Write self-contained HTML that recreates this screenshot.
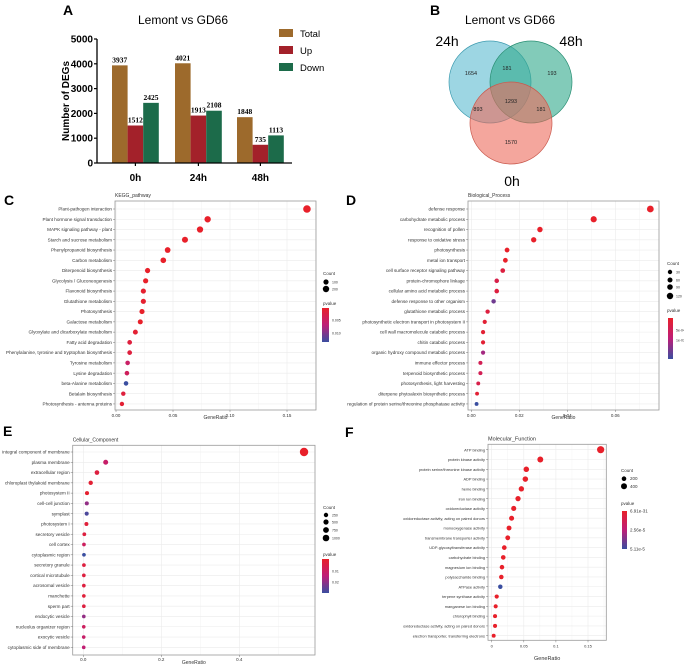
<!DOCTYPE html>
<html><head><meta charset="utf-8">
<style>
html,body{margin:0;padding:0;background:#fff;}
svg{display:block;font-family:"Liberation Sans",sans-serif;}
</style></head>
<body>
<svg id="fig" width="684" height="665" viewBox="0 0 684 665" xmlns="http://www.w3.org/2000/svg">
<g id="gA"></g>
<g id="gB"></g>
<g id="gC"></g>
<g id="gD"></g>
<g id="gE"></g>
<g id="gF"></g>
</svg>
<script>
// ---------- Panel A data ----------
const barGroups = ["0h","24h","48h"];
const seriesNames = ["Total","Up","Down"];
const totalVals = [3937,4021,1848];
const upVals = [1512,1913,735];
const downVals = [2425,2108,1113];
const barYTicks = [0,1000,2000,3000,4000,5000];

// ---------- Panel B data ----------
const vennSets = ["24h","48h","0h"];
const vennCounts = [1654,181,193,1293,893,181,1570];

// ---------- Panel C data ----------
const keggTerms = ["Plant-pathogen interaction","Plant hormone signal transduction","MAPK signaling pathway - plant","Starch and sucrose metabolism","Phenylpropanoid biosynthesis","Carbon metabolism","Diterpenoid biosynthesis","Glycolysis / Gluconeogenesis","Flavonoid biosynthesis","Glutathione metabolism","Photosynthesis","Galactose metabolism","Glyoxylate and dicarboxylate metabolism","Fatty acid degradation","Phenylalanine, tyrosine and tryptophan biosynthesis","Tyrosine metabolism","Lysine degradation","beta-Alanine metabolism","Betalain biosynthesis","Photosynthesis - antenna proteins"];
const keggRatio = [0.1675,0.0804,0.0737,0.0605,0.0453,0.0415,0.0277,0.026,0.024,0.024,0.0228,0.0213,0.017,0.012,0.012,0.0102,0.0096,0.0088,0.0064,0.0052];
const keggCount = [280,135,125,105,80,72,48,45,42,42,40,37,30,22,22,18,17,16,12,10];
const keggP = [0.0,0.0,0.0,0.0,0.0,0.0,0.0,0.0,0.0005,0.0005,0.0,0.0,0.001,0.002,0.002,0.006,0.005,0.016,0.002,0.001];
const keggTicks = [0,0.05,0.10,0.15];
const keggTickLabels = ["0.00","0.05","0.10","0.15"];

// ---------- Panel D data ----------
const bpTerms = ["defense response","carbohydrate metabolic process","recognition of pollen","response to oxidative stress","photosynthesis","metal ion transport","cell surface receptor signaling pathway","protein-chromophore linkage","cellular amino acid metabolic process","defense response to other organism","glutathione metabolic process","photosynthetic electron transport in photosystem II","cell wall macromolecule catabolic process","chitin catabolic process","organic hydroxy compound metabolic process","immune effector process","terpenoid biosynthetic process","photosynthesis, light harvesting","diterpene phytoalexin biosynthetic process","regulation of protein serine/threonine phosphatase activity"];
const bpRatio = [0.0746,0.051,0.0286,0.026,0.0149,0.0142,0.0131,0.0106,0.0106,0.0093,0.0068,0.0056,0.0049,0.0049,0.0049,0.0038,0.0038,0.0029,0.0024,0.0022];
const bpCount = [125,86,48,44,25,24,22,18,18,16,12,10,9,9,9,7,7,5,4,4];
const bpP = [0,0,0,0,0,0,0.00002,0.00003,0.00002,0.00012,0.00002,0.00001,0.00001,0.00001,0.00009,0.00004,0.00004,0.00003,0.00001,0.00015];
const bpTicks = [0,0.02,0.04,0.06];
const bpTickLabels = ["0.00","0.02","0.04","0.06"];

// ---------- Panel E data ----------
const ccTerms = ["integral component of membrane","plasma membrane","extracellular region","chloroplast thylakoid membrane","photosystem II","cell-cell junction","symplast","photosystem I","secretory vesicle","cell cortex","cytoplasmic region","secretory granule","cortical microtubule","acrosomal vesicle","manchette","sperm part","endocytic vesicle","nucleolus organizer region","exocytic vesicle","cytoplasmic side of membrane"];
const ccRatio = [0.566,0.0574,0.035,0.019,0.0095,0.009,0.0087,0.008,0.0026,0.0017,0.0017,0.0016,0.0014,0.0014,0.0014,0.0014,0.0013,0.0012,0.0011,0.0011];
const ccCount = [1100,110,70,40,20,18,17,16,6,4,4,4,3,3,3,3,3,2,2,2];
const ccP = [0,0.012,0.004,0.002,0.001,0.02,0.028,0.003,0.004,0.01,0.03,0.004,0.004,0.004,0.003,0.004,0.02,0.01,0.012,0.014];
const ccTicks = [0,0.2,0.4];
const ccTickLabels = ["0.0","0.2","0.4"];

// ---------- Panel F data ----------
const mfTerms = ["ATP binding","protein kinase activity","protein serine/threonine kinase activity","ADP binding","heme binding","iron ion binding","oxidoreductase activity","oxidoreductase activity, acting on paired donors","monooxygenase activity","transmembrane transporter activity","UDP-glycosyltransferase activity","carbohydrate binding","magnesium ion binding","polysaccharide binding","ATPase activity","terpene synthase activity","manganese ion binding","chlorophyll binding","oxidoreductase activity, acting on paired donors","electron transporter, transferring electrons"];
const mfRatio = [0.1697,0.0757,0.0539,0.0524,0.0462,0.041,0.0343,0.031,0.027,0.025,0.0196,0.018,0.016,0.015,0.0134,0.0078,0.0062,0.0052,0.0052,0.0031];
const mfCount = [540,240,170,165,145,130,108,98,85,80,62,57,50,47,42,25,20,16,16,10];
const mfP = [0,0,0,0,0,0,0,0,0,0,0,0,0,0,0.00005,0,0,0,0,0];
const mfTicks = [0,0.05,0.1,0.15];
const mfTickLabels = ["0","0.05","0.1","0.15"];

const NS="http://www.w3.org/2000/svg";
function mk(parent,tag,attrs,text){
  const e=document.createElementNS(NS,tag);
  for(const k in attrs) e.setAttribute(k,attrs[k]);
  if(text!==undefined) e.textContent=text;
  parent.appendChild(e); return e;
}
function lerp(a,b,t){return Math.round(a+(b-a)*t);}
function pColor(p,pmax){
  const t=Math.max(0,Math.min(1,p/pmax));
  const r=[232,32,42], b=[58,78,160], m=[190,30,120];
  let c;
  if(t<0.5){const u=t/0.5;c=[lerp(r[0],m[0],u),lerp(r[1],m[1],u),lerp(r[2],m[2],u)];}
  else{const u=(t-0.5)/0.5;c=[lerp(m[0],b[0],u),lerp(m[1],b[1],u),lerp(m[2],b[2],u)];}
  return "rgb("+c.join(",")+")";
}

// ================= Panel A =================
(function(){
  const g=document.getElementById('gA');
  const y0=163, yTop=39, xAxis=97, xEnd=292;
  const yS=v=>y0-(v-0)*(y0-yTop)/5000;
  const groupStart=[112,175,237], bw=15.6;
  const colors=["#9d6a2c","#a3212a","#1c6b4a"];
  const series=[totalVals,upVals,downVals];
  let t=mk(g,'text',{x:63,y:15,'font-size':14,'font-weight':'bold'},'A');
   
  t=mk(g,'text',{x:183,y:24,'font-size':12,'text-anchor':'middle'},'Lemont vs GD66');
   
  for(let gi=0;gi<barGroups.length;gi++){
    for(let s=0;s<3;s++){
      const v=series[s][gi];
      const x=groupStart[gi]+s*bw;
      const r=mk(g,'rect',{x:x,y:yS(v),width:bw,height:y0-yS(v),fill:colors[s]});
      
      
      const l=mk(g,'text',{x:x+bw/2,y:yS(v)-3,'font-size':7.5,'font-weight':'bold','text-anchor':'middle','font-family':'Liberation Serif'},String(v));
      
      
    }
    const gl=mk(g,'text',{x:groupStart[gi]+bw*1.5,y:181,'font-size':10,'font-weight':'bold','text-anchor':'middle'},barGroups[gi]);
    
    
    mk(g,'line',{x1:groupStart[gi]+bw*1.5,x2:groupStart[gi]+bw*1.5,y1:y0,y2:y0+3,stroke:'#000','stroke-width':1.2});
  }
  mk(g,'line',{x1:xAxis,x2:xEnd,y1:y0,y2:y0,stroke:'#000','stroke-width':1.3});
  mk(g,'line',{x1:xAxis,x2:xAxis,y1:yTop,y2:y0,stroke:'#000','stroke-width':1.3});
  barYTicks.forEach(v=>{
    mk(g,'line',{x1:xAxis-3,x2:xAxis,y1:yS(v),y2:yS(v),stroke:'#000','stroke-width':1.2});
    const tl=mk(g,'text',{x:xAxis-4,y:yS(v)+3.5,'font-size':10,'font-weight':'bold','text-anchor':'end'},String(v));
    
    
  });
  const yt=mk(g,'text',{x:0,y:0,'font-size':10,'font-weight':'bold','text-anchor':'middle',transform:'translate(69,101) rotate(-90)'},'Number of DEGs');
   
  const ly=[33,50,67];
  for(let s=0;s<3;s++){
    const le=mk(g,'g',{});
    
    
    mk(le,'rect',{x:279,y:ly[s]-4,width:14,height:8,fill:colors[s]});
    mk(le,'text',{x:300,y:ly[s]+4,'font-size':9.5},seriesNames[s]);
  }
})();

// ================= Panel B =================
(function(){
  const g=document.getElementById('gB');
  let t=mk(g,'text',{x:430,y:15,'font-size':14,'font-weight':'bold'},'B');
   
  t=mk(g,'text',{x:510,y:24,'font-size':12,'text-anchor':'middle'},'Lemont vs GD66');
   
  const circles=[{cx:490,cy:82,fill:'#5bbad0',stroke:'#3f9cb0'},{cx:531,cy:82,fill:'#2fa98a',stroke:'#2a8f74'},{cx:511,cy:123,fill:'#ec6a5c',stroke:'#c95a4e'}];
  circles.forEach((c,i)=>{
    const e=mk(g,'circle',{cx:c.cx,cy:c.cy,r:41,fill:c.fill,'fill-opacity':0.6,stroke:c.stroke,'stroke-width':0.7});
    
    
  });
  const setLab=[[447,46],[571,46],[512,186]];
  vennSets.forEach((s,i)=>{
    const e=mk(g,'text',{x:setLab[i][0],y:setLab[i][1],'font-size':14,'text-anchor':'middle'},s);
    
    
  });
  const pos=[[471,75],[507,70],[552,75],[511,103],[478,111],[541,111],[511,144]];
  vennCounts.forEach((v,i)=>{
    const e=mk(g,'text',{x:pos[i][0],y:pos[i][1],'font-size':5.5,'text-anchor':'middle',fill:'#222'},String(v));
    
    
  });
})();

// ================= Dot plots =================
function dotPlot(cfg){
  const g=document.getElementById(cfg.id);
  const xS=v=>cfg.x0+v*cfg.pxPer;
  const yS=i=>cfg.row0+i*cfg.rowStep;
  let t=mk(g,'text',{x:cfg.letterX,y:cfg.letterY,'font-size':14,'font-weight':'bold'},cfg.letter);
   
  t=mk(g,'text',{x:cfg.left,y:cfg.top-4,'font-size':cfg.titleSize,fill:'#333'},cfg.title);
   
  mk(g,'rect',{x:cfg.left,y:cfg.top,width:cfg.right-cfg.left,height:cfg.bottom-cfg.top,fill:'#fff'});
  // grid
  const step=cfg.ticks[1]-cfg.ticks[0];
  for(let v=cfg.ticks[0]-step/2; xS(v)<cfg.right; v+=step/2){
    if(xS(v)<=cfg.left) continue;
    mk(g,'line',{x1:xS(v),x2:xS(v),y1:cfg.top,y2:cfg.bottom,stroke:'#ebebeb','stroke-width':Math.abs((v/step)-Math.round(v/step))<1e-6?0.6:0.3});
  }
  cfg.terms.forEach((tm,i)=>{
    mk(g,'line',{x1:cfg.left,x2:cfg.right,y1:yS(i),y2:yS(i),stroke:'#ebebeb','stroke-width':0.6});
  });
  mk(g,'rect',{x:cfg.left,y:cfg.top,width:cfg.right-cfg.left,height:cfg.bottom-cfg.top,fill:'none',stroke:'#9a9a9a','stroke-width':0.8});
  cfg.terms.forEach((tm,i)=>{
    const l=mk(g,'text',{x:cfg.left-3,y:yS(i)+1.6,'font-size':cfg.labelSize,'text-anchor':'end',fill:'#333'},tm);
    
    
    mk(g,'line',{x1:cfg.left-2,x2:cfg.left,y1:yS(i),y2:yS(i),stroke:'#555','stroke-width':0.4});
  });
  cfg.ticks.forEach((v,i)=>{
    mk(g,'line',{x1:xS(v),x2:xS(v),y1:cfg.bottom,y2:cfg.bottom+2,stroke:'#555','stroke-width':0.4});
    const l=mk(g,'text',{x:xS(v),y:cfg.bottom+cfg.tickDy,'font-size':cfg.tickSize,'text-anchor':'middle',fill:'#333'},cfg.tickLabels[i]);
    
    
  });
  t=mk(g,'text',{x:(cfg.left+cfg.right)/2,y:cfg.xTitleY,'font-size':cfg.xTitleSize,'text-anchor':'middle',fill:'#333'},'GeneRatio');
   
  const cmax=Math.max(...cfg.count);
  cfg.terms.forEach((tm,i)=>{
    const r=cfg.rMin+(cfg.rMax-cfg.rMin)*Math.sqrt(cfg.count[i]/cmax);
    const c=mk(g,'circle',{cx:xS(cfg.ratio[i]),cy:yS(i),r:r,fill:pColor(cfg.p[i],cfg.pmax)});
    
    
  });
  // legend
  const L=cfg.legend;
  const lg=mk(g,'g',{});
   
  mk(lg,'text',{x:L.x-3,y:L.countY,'font-size':L.size,fill:'#333'},'Count');
  L.dots.forEach((d,i)=>{
    const e=mk(lg,'circle',{cx:L.x,cy:d[0],r:d[1],fill:'#000'});
    
    
    mk(lg,'text',{x:L.x+6,y:d[0]+1.5,'font-size':L.labSize,fill:'#333'},L.dotLabels[i]);
  });
  mk(lg,'text',{x:L.x-3,y:L.pY,'font-size':L.size,fill:'#333'},'pvalue');
  const gid='grad'+cfg.id;
  const defs=mk(lg,'defs',{});
  const lgr=mk(defs,'linearGradient',{id:gid,x1:0,y1:0,x2:0,y2:1});
  mk(lgr,'stop',{offset:'0%','stop-color':'rgb(232,32,42)'});
  mk(lgr,'stop',{offset:'50%','stop-color':'rgb(190,30,120)'});
  mk(lgr,'stop',{offset:'100%','stop-color':'rgb(58,78,160)'});
  mk(lg,'rect',{x:L.barX,y:L.barY0,width:L.barW,height:L.barY1-L.barY0,fill:'url(#'+gid+')'});
  L.pLabels.forEach(pl=>{
    mk(lg,'text',{x:L.barX+L.barW+3,y:pl[0]+1.5,'font-size':L.labSize,fill:'#333'},pl[1]);
  });
}

dotPlot({id:'gC',letter:'C',letterX:4,letterY:205,title:'KEGG_pathway',titleSize:5,left:115,right:316,top:201,bottom:410,
  row0:209,rowStep:10.26,x0:116,pxPer:1140,terms:keggTerms,ratio:keggRatio,count:keggCount,p:keggP,pmax:0.016,
  ticks:keggTicks,tickLabels:keggTickLabels,tickSize:4.5,tickDy:7,labelSize:4.6,xTitleY:419,xTitleSize:5,rMin:1.8,rMax:3.8,
  legend:{x:326,size:4.5,labSize:3.5,countY:275,dots:[[282,2.6],[289,3.2]],dotLabels:['100','200'],pY:305,barX:322,barW:7,barY0:308,barY1:342,pLabels:[[320,'0.005'],[333,'0.010']]}});

dotPlot({id:'gD',letter:'D',letterX:346,letterY:205,title:'Biological_Process',titleSize:5,left:468,right:659,top:201,bottom:410,
  row0:209,rowStep:10.26,x0:471.3,pxPer:2400,terms:bpTerms,ratio:bpRatio,count:bpCount,p:bpP,pmax:0.00015,
  ticks:bpTicks,tickLabels:bpTickLabels,tickSize:4.5,tickDy:7,labelSize:4.6,xTitleY:419,xTitleSize:5,rMin:1.6,rMax:3.4,
  legend:{x:670,size:4.5,labSize:3.5,countY:265,dots:[[272,2.2],[280,2.5],[287,2.8],[296,3.2]],dotLabels:['30','60','90','120'],pY:312,barX:668,barW:5,barY0:318,barY1:359,pLabels:[[330,'5e-04'],[340,'1e-03']]}});

dotPlot({id:'gE',letter:'E',letterX:3,letterY:436,title:'Cellular_Component',titleSize:5,left:72.7,right:315,top:445.3,bottom:655,
  row0:452,rowStep:10.28,x0:83.3,pxPer:390,terms:ccTerms,ratio:ccRatio,count:ccCount,p:ccP,pmax:0.03,
  ticks:ccTicks,tickLabels:ccTickLabels,tickSize:4.5,tickDy:6,labelSize:4.6,xTitleY:664,xTitleSize:5,rMin:1.7,rMax:4.2,
  legend:{x:326,size:4.5,labSize:3.5,countY:509,dots:[[515,2.2],[522,2.6],[530,2.9],[538,3.3]],dotLabels:['250','500','750','1000'],pY:556,barX:322,barW:7,barY0:559,barY1:593,pLabels:[[571,'0.01'],[582,'0.02']]}});

dotPlot({id:'gF',letter:'F',letterX:345,letterY:437,title:'Molecular_Function',titleSize:5.5,left:488,right:606.3,top:444.3,bottom:640.3,
  row0:449.7,rowStep:9.79,x0:491.7,pxPer:642,terms:mfTerms,ratio:mfRatio,count:mfCount,p:mfP,pmax:0.00005,
  ticks:mfTicks,tickLabels:mfTickLabels,tickSize:4,tickDy:7,labelSize:3.9,xTitleY:660,xTitleSize:5.5,rMin:1.7,rMax:3.6,
  legend:{x:624,size:4.5,labSize:4.5,countY:472,dots:[[478.7,2.3],[486.3,3]],dotLabels:['200','400'],pY:505,barX:622,barW:5,barY0:511,barY1:549,pLabels:[[511,'6.91e-31'],[530,'2.56e-5'],[549,'5.11e-5']]}});
</script>
</body></html>
